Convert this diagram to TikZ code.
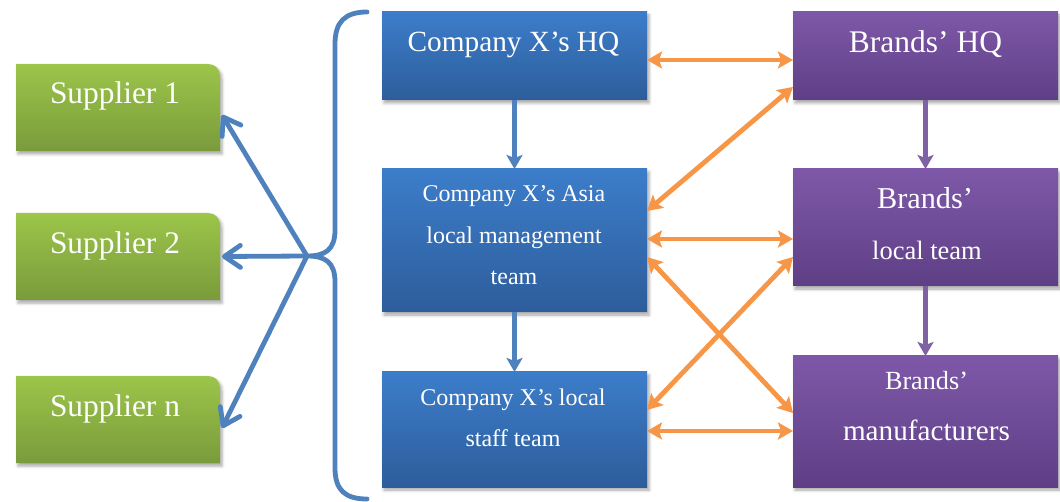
\documentclass[tikz,border=0pt]{standalone}
\usepackage{fontspec}
\setmainfont{Liberation Serif}
\usetikzlibrary{arrows.meta,shadows.blur}
\definecolor{gtop}{HTML}{9CC54A}
\definecolor{gbot}{HTML}{7A9B3B}
\definecolor{btop}{HTML}{3C7DCA}
\definecolor{bbot}{HTML}{2D5D9B}
\definecolor{ptop}{HTML}{7E58A8}
\definecolor{pbot}{HTML}{5E3F85}
\definecolor{orangeline}{HTML}{F79646}
\definecolor{blueline}{HTML}{4F81BD}
\definecolor{purpleline}{HTML}{7F62A3}
\begin{document}
\begin{tikzpicture}[x=1pt,y=-1pt,
  box/.style={rectangle, inner sep=0pt, outer sep=0pt, draw=none},
  shad/.style={blur shadow={shadow xshift=2pt,shadow yshift=-3pt,shadow blur radius=3pt,shadow opacity=35}},
  bluebox/.style={box,shad,top color=btop,bottom color=bbot,minimum width=265pt},
  purplebox/.style={box,shad,top color=ptop,bottom color=pbot,minimum width=265pt},
  greenbox/.style={box,minimum width=204pt,minimum height=87pt},
  greenfill/.style={shad,top color=gtop,bottom color=gbot},
  lbl/.style={anchor=base, text=white, inner sep=0pt},
  big/.style={font=\fontsize{31.4pt}{36pt}\selectfont},
  mid/.style={font=\fontsize{29.3pt}{34pt}\selectfont},
  small/.style={font=\fontsize{24pt}{28pt}\selectfont},
  orangearrow/.style={draw=orangeline, line width=4.8pt,
    {Stealth[length=15pt,width=17pt,inset=3pt]}-{Stealth[length=15pt,width=17pt,inset=3pt]}},
  downblue/.style={draw=blueline, line width=4.5pt, -{Stealth[length=14pt,width=16pt,inset=3pt]}},
  downpurple/.style={draw=purpleline, line width=4.5pt, -{Stealth[length=14pt,width=16pt,inset=3pt]}},
  supparrow/.style={draw=blueline, line width=4.8pt, line cap=round, -{Straight Barb[length=16pt,width=22pt,round]}},
  bracestyle/.style={draw=blueline, line width=4.8pt, line cap=round}
]
\useasboundingbox (0,0) rectangle (1060,502);

% supplier boxes
\node[greenbox] (s1) at (118,107.5) {};
\node[greenbox] (s2) at (118,256.5) {};
\node[greenbox] (sn) at (118,419.5) {};
\foreach \n in {s1,s2,sn}{
  \shade[greenfill] (\n.south west) -- (\n.north west) -- ([xshift=-12pt]\n.north east)
    .. controls ([xshift=-5pt]\n.north east) and ([yshift=-5pt]\n.north east) .. ([yshift=-12pt]\n.north east)
    -- (\n.south east) -- cycle;
}
\node[lbl,big] (ts1) at (115,104) {Supplier 1};
\node[lbl,big] (ts2) at (115,254) {Supplier 2};
\node[lbl,big] (tsn) at (115,417) {Supplier n};

% company boxes
\node[bluebox,minimum height=88pt] (hq) at (514.5,56) {};
\node[bluebox,minimum height=143pt] (asia) at (514.5,240.5) {};
\node[bluebox,minimum height=115pt] (staff) at (514.5,429.5) {};
\node[lbl,mid] (thq) at (513.5,52) {Company X’s HQ};
\node[lbl,small] (ta1) at (514,202) {Company X’s Asia};
\node[lbl,small] (ta2) at (514,244) {local management};
\node[lbl,small] (ta3) at (514,285) {team};
\node[lbl,small] (tst1) at (513,405) {Company X’s local};
\node[lbl,small] (tst2) at (513,446) {staff team};

% brand boxes
\node[purplebox,minimum height=88pt] (bhq) at (925.5,56) {};
\node[purplebox,minimum height=117pt] (blt) at (925.5,227.5) {};
\node[purplebox,minimum height=131pt] (bman) at (925.5,421.5) {};
\node[lbl,font=\fontsize{31.5pt}{36pt}\selectfont] (tbhq) at (925.5,53) {Brands’ HQ};
\node[lbl,font=\fontsize{30.3pt}{36pt}\selectfont] (tblt1) at (925,209) {Brands’};
\node[lbl,font=\fontsize{26.5pt}{32pt}\selectfont] (tblt2) at (927,260) {local team};
\node[lbl,font=\fontsize{26.2pt}{32pt}\selectfont] (tbm1) at (926.5,390) {Brands’};
\node[lbl,font=\fontsize{29.2pt}{34pt}\selectfont] (tbm2) at (926.5,440) {manufacturers};

% brace
\coordinate (tip) at (307,256);
\draw[bracestyle] (367,12) .. controls (345,12) and (335,22) .. (335,44) -- (335,230)
  .. controls (335,250) and (325,256) .. (tip)
  .. controls (325,256) and (335,262) .. (335,282) -- (335,468)
  .. controls (335,490) and (345,499) .. (367,499);

% supplier arrows
\draw[supparrow] (tip) -- ([yshift=-7.5pt,xshift=2pt]s1.east);
\draw[supparrow] (tip) -- ([xshift=2pt]s2.east);
\draw[supparrow] (tip) -- ([yshift=-8.5pt,xshift=2pt]sn.east);

% vertical arrows
\draw[downblue] (hq.south) -- (asia.north);
\draw[downblue] (asia.south) -- (staff.north);
\draw[downpurple] (bhq.south) -- (blt.north);
\draw[downpurple] (blt.south) -- (bman.north);

% orange arrows
\draw[orangearrow] ([yshift=-4pt]hq.east) -- ([yshift=-4pt]bhq.west);
\draw[orangearrow] ([yshift=29.5pt]asia.east) -- ([yshift=-31pt]bhq.west);
\draw[orangearrow] ([yshift=1.5pt]asia.east) -- ([yshift=-11.5pt]blt.west);
\draw[orangearrow] ([yshift=-16.5pt]asia.east) -- ([yshift=8.5pt]bman.west);
\draw[orangearrow] ([yshift=19.5pt]staff.east) -- ([yshift=-29.5pt]blt.west);
\draw[orangearrow] ([yshift=-1.5pt]staff.east) -- ([yshift=-9.5pt]bman.west);
\end{tikzpicture}
\end{document}
